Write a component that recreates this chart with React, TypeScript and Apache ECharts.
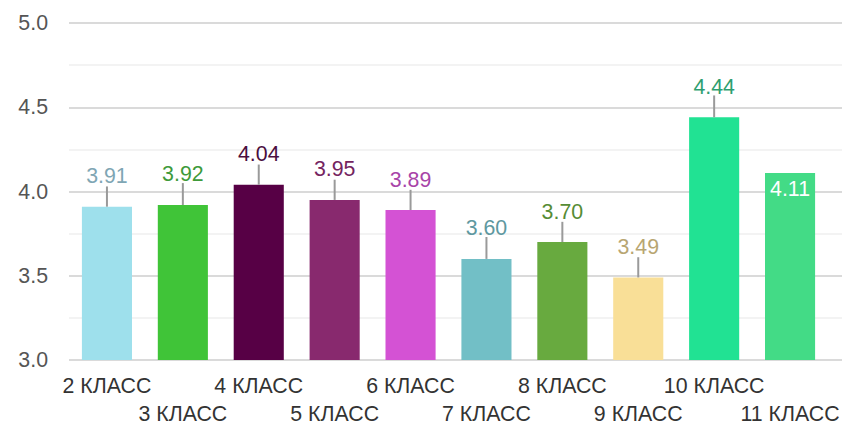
import React, { useEffect, useRef } from "react";
import * as echarts from "echarts";

const categories = ["2 КЛАСС", "3 КЛАСС", "4 КЛАСС", "5 КЛАСС", "6 КЛАСС", "7 КЛАСС", "8 КЛАСС", "9 КЛАСС", "10 КЛАСС", "11 КЛАСС"];
const values = [3.91, 3.92, 4.04, 3.95, 3.89, 3.6, 3.7, 3.49, 4.44, 4.11];
const errors: (number | null)[] = [0.12, 0.13, 0.12, 0.12, 0.12, 0.13, 0.12, 0.12, 0.13, null];
const barColors = ["#9EE0EC", "#40C438", "#570045", "#88296E", "#D452D4", "#72BFC6", "#68AA3F", "#F9DF97", "#21E293", "#43DB86"];
const labelColors = ["#7FA6B4", "#3E9A3A", "#4A0E3E", "#74245F", "#A844A8", "#5E98A0", "#568C35", "#B8A672", "#2E9E70", "#FFFFFF"];
const yTicks = [3.0, 3.5, 4.0, 4.5, 5.0];

export default function App() {
  const ref = useRef<HTMLDivElement>(null);
  useEffect(() => {
    if (!ref.current) return;
    const chart = echarts.init(ref.current, null, { renderer: "svg" });
    const font = "Liberation Sans, Arial, sans-serif";
    const yMin = yTicks[0];
    const yMax = yTicks[yTicks.length - 1];
    chart.setOption({
      animation: false,
      grid: [
        { left: 69, right: 15, top: 23, bottom: 65, containLabel: false, outerBoundsMode: "none" },
        { left: 69, right: 29, top: 23, bottom: 65, containLabel: false, outerBoundsMode: "none" },
      ],
      xAxis: [
        { type: "value", gridIndex: 0, show: false, min: 0, max: 1 },
        {
          type: "category",
          gridIndex: 1,
          data: categories,
          axisLine: { show: false },
          axisTick: { show: false },
          axisLabel: {
            interval: 0,
            margin: 16,
            color: "#333",
            fontFamily: font,
            formatter: (v: string, i: number) => (i % 2 === 1 ? "{gap| }\n{b|" + v + "}" : "{b|" + v + "}"),
            rich: {
              gap: { fontSize: 10, lineHeight: 28 },
              b: { fontSize: 21.33, lineHeight: 20, color: "#333", fontFamily: font },
            },
          },
        },
      ],
      yAxis: [
        {
          type: "value",
          gridIndex: 0,
          min: yMin,
          max: yMax,
          interval: 0.5,
          axisLine: { show: false },
          axisTick: { show: false },
          axisLabel: {
            margin: 21,
            fontSize: 21.33,
            color: "#555",
            fontFamily: font,
            formatter: (v: number) => v.toFixed(1),
          },
          splitLine: { lineStyle: { color: "#dadada", width: 2 } },
          minorTick: { show: false, splitNumber: 2 },
          minorSplitLine: { show: true, lineStyle: { color: "#efefef", width: 1.5 } },
        },
        {
          type: "value",
          gridIndex: 1,
          min: yMin,
          max: yMax,
          interval: 0.5,
          show: false,
          splitLine: { show: false },
        },
      ],
      series: [
        {
          type: "bar",
          xAxisIndex: 1,
          yAxisIndex: 1,
          barWidth: "66%",
          data: values.map((v, i) => ({
            value: v,
            itemStyle: { color: barColors[i] },
            label: errors[i] == null
              ? { show: true, position: "insideTop", distance: 6, color: labelColors[i], fontSize: 21.33, fontFamily: font, formatter: (p: any) => p.value.toFixed(2) }
              : { show: true, position: "top", distance: 20, color: labelColors[i], fontSize: 21.33, fontFamily: font, formatter: (p: any) => p.value.toFixed(2) },
          })),
        },
        {
          type: "custom",
          xAxisIndex: 1,
          yAxisIndex: 1,
          z: 3,
          data: values.map((v, i) => [i, v, errors[i] == null ? 0 : errors[i]]),
          encode: { x: 0, y: 1 },
          renderItem: (params: any, api: any) => {
            const err = api.value(2);
            if (!err) return null;
            const p1 = api.coord([api.value(0), api.value(1)]);
            const p2 = api.coord([api.value(0), api.value(1) + err]);
            return {
              type: "line",
              shape: { x1: p1[0], y1: p1[1], x2: p2[0], y2: p2[1] },
              style: { stroke: "#9a9a9a", lineWidth: 2 },
            };
          },
        },
      ],
    });
    return () => chart.dispose();
  }, []);
  return <div ref={ref} style={{ width: 857, height: 425, position: "absolute", left: 0, top: 0 }} />;
}
